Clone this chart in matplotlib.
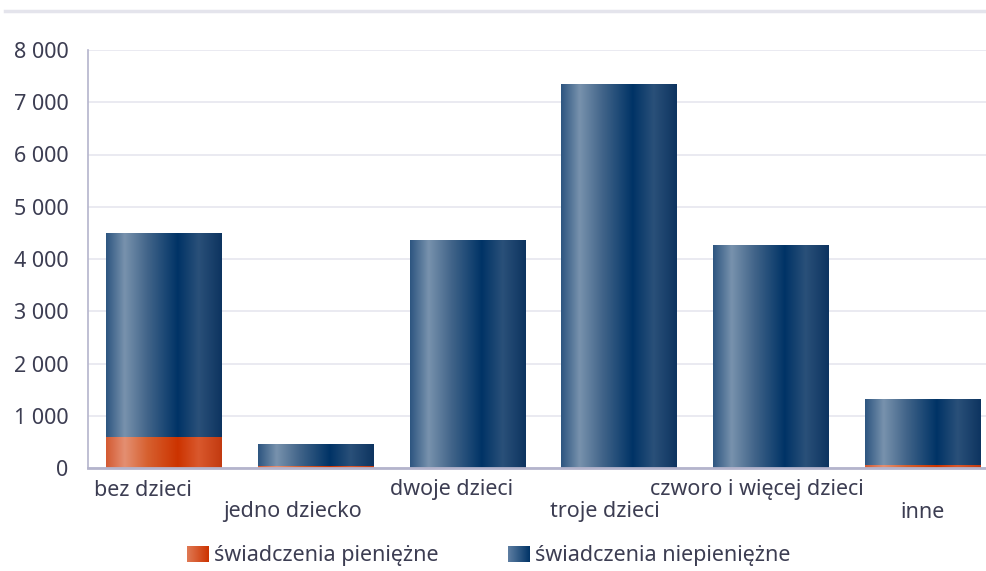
import numpy as np
import matplotlib.pyplot as plt
from matplotlib.colors import LinearSegmentedColormap
from matplotlib.lines import Line2D

categories = ["bez dzieci", "jedno dziecko", "dwoje dzieci", "troje dzieci",
              "czworo i więcej dzieci", "inne"]
totals = [4480, 460, 4360, 7340, 4250, 1300]
cash = [590, 40, 0, 0, 0, 50]
non_cash = [t - c for t, c in zip(totals, cash)]
series_names = ["świadczenia pieniężne", "świadczenia niepieniężne"]
yticks = [0, 1000, 2000, 3000, 4000, 5000, 6000, 7000, 8000]

TEXT = "#3c3d52"
LINE = "#b4b4cc"
GRID = "#e6e6ef"
FS = 15.5

plt.rcParams['font.family'] = ['Noto Sans', 'DejaVu Sans']

navy_cmap = LinearSegmentedColormap.from_list("navy", [
    (0.0, "#2d5580"), (0.16, "#7892ad"), (0.36, "#416489"),
    (0.62, "#003366"), (0.80, "#2a5079"), (1.0, "#0d3460")])
orange_cmap = LinearSegmentedColormap.from_list("orange", [
    (0.0, "#d35a32"), (0.16, "#e48f72"), (0.36, "#d6602f"),
    (0.62, "#cc3300"), (0.80, "#d9582d"), (1.0, "#c23a10")])
grad = np.linspace(0, 1, 256).reshape(1, -1)

fig = plt.figure(figsize=(9.87, 5.71), dpi=100)
ax = fig.add_axes([88 / 987, 1 - 468 / 571, 910 / 987, 418 / 571])

x = np.arange(len(categories))
width = 0.76
bars_cash = ax.bar(x, cash, width, color="none", zorder=2)
bars_non = ax.bar(x, non_cash, width, bottom=cash, color="none", zorder=2)

# paint each bar with a horizontal gradient
for bars, cmap in [(bars_cash, orange_cmap), (bars_non, navy_cmap)]:
    for r in bars:
        if r.get_height() <= 0:
            continue
        x0, y0 = r.get_x(), r.get_y()
        ax.imshow(grad, cmap=cmap, aspect="auto", interpolation="bilinear",
                  extent=[x0, x0 + r.get_width(), y0, y0 + r.get_height()],
                  zorder=2)

ax.set_xlim(-0.5, len(categories) - 0.5)
ax.set_ylim(0, 8000)
ax.set_yticks(yticks)
ax.set_yticklabels([f"{v:,}".replace(",", " ") for v in yticks])
ax.tick_params(axis="y", length=0, pad=14, labelsize=FS, labelcolor=TEXT)
ax.set_xticks([])
ax.yaxis.grid(True, color=GRID, linewidth=1.2)
ax.set_axisbelow(True)

for s in ["top", "right"]:
    ax.spines[s].set_visible(False)
ax.spines["left"].set_color(LINE)
ax.spines["left"].set_linewidth(1.2)
ax.spines["bottom"].set_color(LINE)
ax.spines["bottom"].set_linewidth(2)
ax.spines["bottom"].set_zorder(3)

# staggered category labels
shifts = [-0.14, -0.15, -0.1, -0.09, -0.09, 0.0]
for i, lab in enumerate(categories):
    ypos = -22 if i % 2 == 0 else -44
    ax.annotate(lab, (x[i] + shifts[i], 0), xytext=(0, ypos),
                textcoords="offset pixels", ha="center", va="center",
                fontsize=FS, color=TEXT, annotation_clip=False)

# thin band at the top of the figure
fig.add_artist(Line2D([5 / 987, 1], [1 - 11 / 571] * 2, color="#e4e4ec",
                      linewidth=2.5, transform=fig.transFigure))

# legend with gradient swatches
leg_items = [(187, series_names[0],
              LinearSegmentedColormap.from_list("lo", ["#e07a55", "#cc3300"])),
             (508, series_names[1],
              LinearSegmentedColormap.from_list("ln", ["#5f7fa3", "#003366"]))]
for px, name, cmap in leg_items:
    sw = fig.add_axes([px / 987, 1 - 562 / 571, 22 / 987, 16 / 571])
    sw.imshow(grad, cmap=cmap, aspect="auto")
    sw.set_axis_off()
    fig.text((px + 27) / 987, 1 - 555 / 571, name, fontsize=FS, color=TEXT,
             ha="left", va="center")

fig.savefig("out.png", dpi=100)
